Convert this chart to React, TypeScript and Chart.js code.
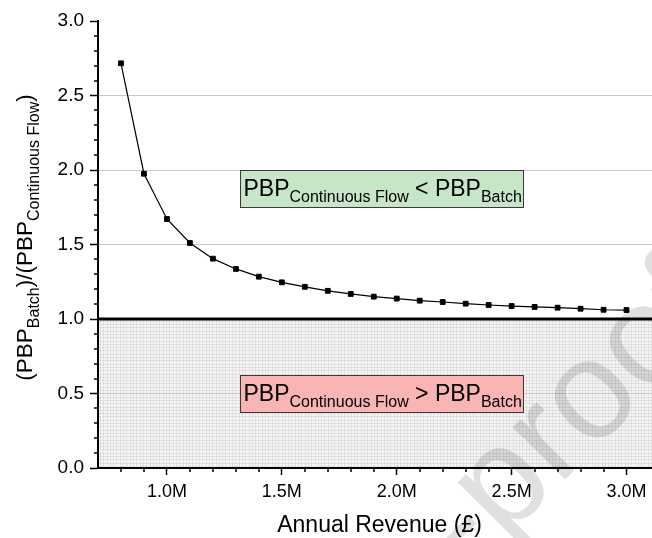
import React, { useEffect, useRef } from "react";
import { Chart, registerables } from "chart.js";

Chart.register(...registerables);

// ---- data (annual revenue in £M, payback period ratio) ----
const revenueM = [0.8, 0.9, 1.0, 1.1, 1.2, 1.3, 1.4, 1.5, 1.6, 1.7, 1.8, 1.9, 2.0, 2.1, 2.2, 2.3, 2.4, 2.5, 2.6, 2.7, 2.8, 2.9, 3.0];
const pbpRatio = [2.716, 1.975, 1.671, 1.51, 1.405, 1.336, 1.284, 1.246, 1.216, 1.189, 1.168, 1.15, 1.137, 1.123, 1.114, 1.103, 1.094, 1.087, 1.081, 1.076, 1.069, 1.062, 1.06];

// ---- ticks ----
const xMajorTicks = [1.0, 1.5, 2.0, 2.5, 3.0];
const xMinorTicks = [0.8, 0.9, 1.1, 1.2, 1.3, 1.4, 1.6, 1.7, 1.8, 1.9, 2.1, 2.2, 2.3, 2.4, 2.6, 2.7, 2.8, 2.9];
const yMajorTicks = [0, 0.5, 1.0, 1.5, 2.0, 2.5, 3.0];
const yMinorTicks = [0.1, 0.2, 0.3, 0.4, 0.6, 0.7, 0.8, 0.9, 1.1, 1.2, 1.3, 1.4, 1.6, 1.7, 1.8, 1.9, 2.1, 2.2, 2.3, 2.4, 2.6, 2.7, 2.8, 2.9];
const yGridValues = [0.5, 1.5, 2.0, 2.5];
const thresholdValue = 1.0;

// ---- text ----
const xTitle = "Annual Revenue (£)";
type Part = [string, boolean];
const yTitleParts: Part[] = [["(PBP", false], ["Batch", true], [")/(PBP", false], ["Continuous Flow", true], [")", false]];
const upperLabelParts: Part[] = [["PBP", false], ["Continuous Flow", true], [" < PBP", false], ["Batch", true]];
const lowerLabelParts: Part[] = [["PBP", false], ["Continuous Flow", true], [" > PBP", false], ["Batch", true]];
const watermarkText = "Journal Pre-proof";

// annotation boxes in data coordinates
const upperBox = { x0: 1.317, x1: 2.55, y0: 1.752, y1: 2.0 };
const lowerBox = { x0: 1.317, x1: 2.55, y0: 0.376, y1: 0.624 };

const FAMILY = "'Liberation Sans', Arial, Helvetica, sans-serif";

function measureParts(ctx: CanvasRenderingContext2D, parts: Part[], main: string, sub: string) {
  let w = 0;
  for (const [t, s] of parts) {
    ctx.font = s ? sub : main;
    w += ctx.measureText(t).width;
  }
  return w;
}

function drawParts(ctx: CanvasRenderingContext2D, parts: Part[], x: number, y: number, main: string, sub: string, subDy: number) {
  let cx = x;
  for (const [t, s] of parts) {
    ctx.font = s ? sub : main;
    ctx.fillText(t, cx, s ? y + subDy : y);
    cx += ctx.measureText(t).width;
  }
}

const decorPlugin = {
  id: "decor",
  beforeDraw(chart: any) {
    const { ctx, chartArea } = chart;
    const ys = chart.scales.y;
    ctx.save();
    ctx.fillStyle = "#ffffff";
    ctx.fillRect(0, 0, chart.width, chart.height);
    // hatched region below threshold
    const top = ys.getPixelForValue(thresholdValue);
    const bottom = chartArea.bottom;
    ctx.fillStyle = "#f4f4f4";
    ctx.fillRect(chartArea.left, top, chartArea.right - chartArea.left, bottom - top);
    ctx.strokeStyle = "rgba(0,0,0,0.065)";
    ctx.lineWidth = 1;
    ctx.beginPath();
    for (let x = chartArea.left + 2; x < chartArea.right; x += 3.3) {
      const px = Math.round(x) + 0.5;
      ctx.moveTo(px, top);
      ctx.lineTo(px, bottom);
    }
    for (let y = bottom - 2; y > top; y -= 3.3) {
      const py = Math.round(y) + 0.5;
      ctx.moveTo(chartArea.left, py);
      ctx.lineTo(chartArea.right, py);
    }
    ctx.stroke();
    ctx.restore();
  },
  beforeDatasetsDraw(chart: any) {
    const { ctx, chartArea } = chart;
    const xs = chart.scales.x;
    const ys = chart.scales.y;
    ctx.save();
    // threshold line
    const ty = ys.getPixelForValue(thresholdValue);
    ctx.strokeStyle = "#000";
    ctx.lineWidth = 3;
    ctx.beginPath();
    ctx.moveTo(chartArea.left, ty);
    ctx.lineTo(chartArea.right, ty);
    ctx.stroke();

    const main = `23px ${FAMILY}`;
    const sub = `16px ${FAMILY}`;
    const boxes: [typeof upperBox, Part[], string][] = [
      [upperBox, upperLabelParts, "#c7e6c7"],
      [lowerBox, lowerLabelParts, "#f9b4b4"],
    ];
    for (const [b, parts, color] of boxes) {
      const x0 = Math.round(xs.getPixelForValue(b.x0)) + 0.5;
      const x1 = Math.round(xs.getPixelForValue(b.x1)) + 0.5;
      const y0 = Math.round(ys.getPixelForValue(b.y1)) + 0.5;
      const y1 = Math.round(ys.getPixelForValue(b.y0)) + 0.5;
      ctx.fillStyle = color;
      ctx.fillRect(x0, y0, x1 - x0, y1 - y0);
      ctx.strokeStyle = "#3a3a3a";
      ctx.lineWidth = 1;
      ctx.strokeRect(x0, y0, x1 - x0, y1 - y0);
      ctx.fillStyle = "#000";
      ctx.textBaseline = "alphabetic";
      ctx.textAlign = "left";
      drawParts(ctx, parts, x0 + 3, y0 + 25, main, sub, 6);
    }
    ctx.restore();
  },
  afterDraw(chart: any) {
    const { ctx, chartArea } = chart;
    const xs = chart.scales.x;
    const ys = chart.scales.y;
    ctx.save();
    // minor ticks
    ctx.strokeStyle = "#000";
    ctx.lineWidth = 1.5;
    ctx.beginPath();
    for (const v of xMinorTicks) {
      const px = Math.round(xs.getPixelForValue(v));
      ctx.moveTo(px, chartArea.bottom);
      ctx.lineTo(px, chartArea.bottom + 4);
    }
    for (const v of yMinorTicks) {
      const py = Math.round(ys.getPixelForValue(v));
      ctx.moveTo(chartArea.left - 4, py);
      ctx.lineTo(chartArea.left, py);
    }
    ctx.stroke();

    // axis titles
    ctx.fillStyle = "#000";
    ctx.textBaseline = "alphabetic";
    ctx.font = `23px ${FAMILY}`;
    ctx.textAlign = "center";
    ctx.fillText(xTitle, (chartArea.left + chartArea.right) / 2, 531.5);

    ctx.textAlign = "left";
    const main = `22.5px ${FAMILY}`;
    const sub = `16px ${FAMILY}`;
    const w = measureParts(ctx, yTitleParts, main, sub);
    ctx.save();
    ctx.translate(32, 237.5);
    ctx.rotate(-Math.PI / 2);
    drawParts(ctx, yTitleParts, -w / 2, 0, main, sub, 7);
    ctx.restore();

    // watermark
    ctx.save();
    const fs = 140;
    ctx.font = `${fs}px ${FAMILY}`;
    ctx.fillStyle = "rgba(0,0,0,0.12)";
    const pw = ctx.measureText("Journal Pre-pr").width;
    const ow = ctx.measureText("o").width;
    ctx.translate(593, 400);
    ctx.rotate(-Math.PI / 4);
    ctx.fillText(watermarkText, -(pw + ow / 2), 0.26 * fs);
    ctx.restore();

    ctx.restore();
  },
};

export default function App() {
  const ref = useRef<HTMLCanvasElement>(null);
  useEffect(() => {
    if (!ref.current) return;
    const chart = new Chart(ref.current, {
      type: "line",
      data: {
        datasets: [
          {
            data: revenueM.map((x, i) => ({ x, y: pbpRatio[i] })),
            borderColor: "#000",
            borderWidth: 1.2,
            pointStyle: "rect",
            pointRadius: 3.4,
            pointBackgroundColor: "#000",
            pointBorderColor: "#000",
            pointBorderWidth: 1,
            tension: 0,
            fill: false,
          },
        ],
      },
      options: {
        animation: false,
        responsive: false,
        devicePixelRatio: 1,
        layout: { padding: { left: 0, right: 0, top: 21, bottom: 0 } },
        plugins: { legend: { display: false }, tooltip: { enabled: false } },
        scales: {
          x: {
            type: "linear",
            min: 0.7,
            max: 3.15,
            afterBuildTicks: (s: any) => {
              s.ticks = xMajorTicks.map((v) => ({ value: v }));
            },
            afterFit: (s: any) => {
              s.height = 70;
            },
            ticks: {
              color: "#000",
              font: { size: 18, family: FAMILY },
              padding: 6,
              maxRotation: 0,
              autoSkip: false,
              callback: (v: any) => Number(v).toFixed(1) + "M",
            },
            grid: {
              drawOnChartArea: false,
              drawTicks: true,
              tickLength: 7,
              tickColor: "#000",
              tickWidth: 1.5,
            },
            border: { display: true, color: "#000", width: 2 },
          },
          y: {
            type: "linear",
            min: 0,
            max: 3,
            afterBuildTicks: (s: any) => {
              s.ticks = yMajorTicks.map((v) => ({ value: v }));
            },
            afterFit: (s: any) => {
              s.width = 98;
            },
            ticks: {
              color: "#000",
              font: { size: 19, family: FAMILY },
              padding: 6,
              callback: (v: any) => Number(v).toFixed(1),
            },
            grid: {
              drawOnChartArea: true,
              drawTicks: true,
              tickLength: 8,
              tickColor: "#000",
              tickWidth: 1.5,
              lineWidth: 1,
              color: (c: any) => (yGridValues.includes(c.tick?.value) ? "#c8c8c8" : "rgba(0,0,0,0)"),
            },
            border: { display: true, color: "#000", width: 2 },
          },
        },
      },
      plugins: [decorPlugin],
    } as any);
    return () => chart.destroy();
  }, []);
  return (
    <div style={{ position: "fixed", left: 0, top: 0, width: 652, height: 538, overflow: "hidden", background: "#fff" }}>
      <canvas ref={ref} width={666} height={538} style={{ display: "block", width: 666, height: 538 }} />
    </div>
  );
}
